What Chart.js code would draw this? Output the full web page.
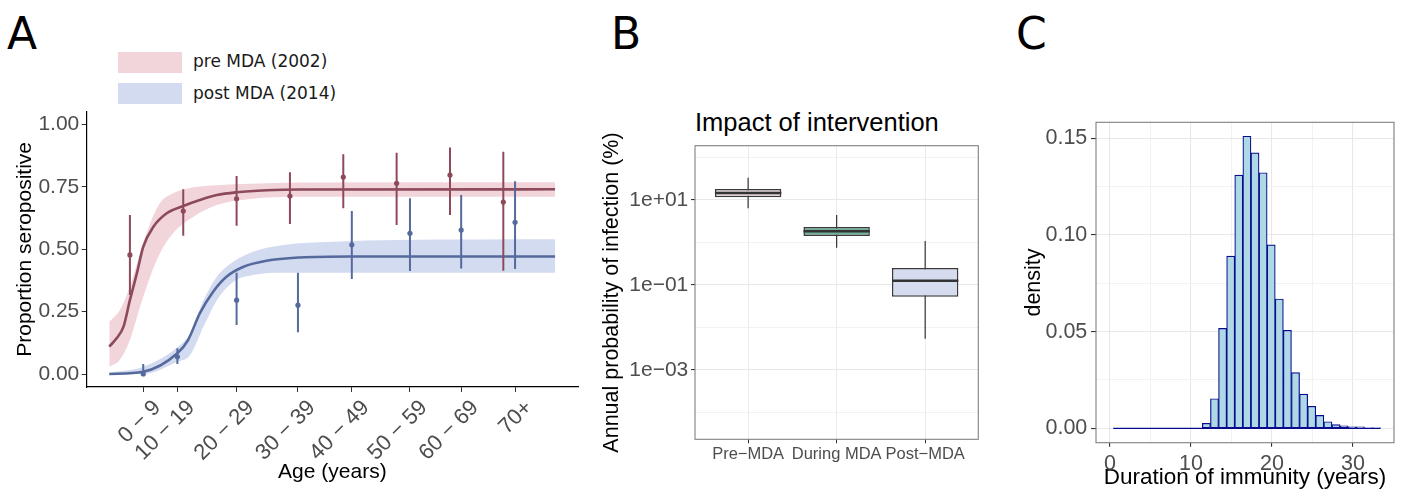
<!DOCTYPE html>
<html>
<head>
<meta charset="utf-8">
<script src="https://cdn.jsdelivr.net/npm/chart.js@4.4.0/dist/chart.umd.min.js"></script>
<style>
html, body { margin: 0; padding: 0; background: #fff; width: 1402px; height: 491px; overflow: hidden; }
canvas { position: absolute; top: 0; }
.tag { position: absolute; top: 12px; font: 44px/44px "DejaVu Sans", sans-serif; color: #000; }
.key { position: absolute; left: 118px; width: 64px; height: 21px; }
.keytxt { position: absolute; left: 193px; font: 17px/20px "DejaVu Sans", sans-serif; color: #1a1a1a; white-space: nowrap; }
#titleB { position: absolute; left: 695px; top: 110px; font: 25.5px/25.5px "Liberation Sans", Arial, sans-serif; color: #000; white-space: nowrap; }
</style>
</head>
<body>
<div class="tag" style="left:7px">A</div>
<div class="tag" style="left:611px">B</div>
<div class="tag" style="left:1016px">C</div>

<div class="key" style="top:52px; background:#f2d4db"></div>
<div class="keytxt" style="top:51px">pre MDA (2002)</div>
<div class="key" style="top:83px; background:#d3dbf1"></div>
<div class="keytxt" style="top:83px">post MDA (2014)</div>

<div id="titleB">Impact of intervention</div>

<canvas id="chartA" width="600" height="491" style="left:0px"></canvas>
<canvas id="chartB" width="400" height="491" style="left:600px"></canvas>
<canvas id="chartC" width="402" height="491" style="left:1000px"></canvas>

<script>
// ---------- panel A : seroprevalence by age ----------
var ageGroups = ["0 \u2212 9", "10 \u2212 19", "20 \u2212 29", "30 \u2212 39", "40 \u2212 49", "50 \u2212 59", "60 \u2212 69", "70+"];
var groupAge  = [7.5, 13.9, 25.0, 36.5, 46.6, 57.5, 67.1, 77.2];   // where the age ticks / post MDA points sit
var propTicks = [0, 0.25, 0.5, 0.75, 1.0];

var preAge = [5, 15, 25, 35, 45, 55, 65, 75];
var preObs = [0.477, 0.653, 0.702, 0.713, 0.789, 0.764, 0.797, 0.689];
var preLo  = [0.317, 0.554, 0.594, 0.601, 0.664, 0.597, 0.637, 0.414];
var preHi  = [0.637, 0.740, 0.793, 0.808, 0.881, 0.887, 0.908, 0.891];

var postObs = [0.000, 0.069, 0.296, 0.276, 0.518, 0.564, 0.577, 0.608];
var postLo  = [0.000, 0.040, 0.196, 0.167, 0.381, 0.413, 0.423, 0.421];
var postHi  = [0.040, 0.103, 0.406, 0.406, 0.653, 0.704, 0.717, 0.772];

// fitted model curves
var preFitAge = [1.13, 2.5, 3.8, 5, 6.3, 7.5, 9.4, 11.9, 15, 18.1, 21.3, 25, 30.6, 36.9, 84.7];
var preFit    = [0.110, 0.143, 0.190, 0.296, 0.403, 0.510, 0.590, 0.644, 0.673, 0.697, 0.717, 0.728, 0.736, 0.739, 0.740];
var preBandAge = [1.13, 3.1, 5, 6.9, 8.8, 10.6, 13.1, 16.9, 21.3, 27.5, 36.9, 84.7];
var preBandHi  = [0.210, 0.256, 0.350, 0.483, 0.604, 0.684, 0.724, 0.748, 0.756, 0.762, 0.767, 0.768];
var preBandLo  = [0.029, 0.056, 0.136, 0.270, 0.390, 0.483, 0.564, 0.630, 0.677, 0.701, 0.710, 0.710];

var postFitAge = [1.13, 7.5, 13.9, 15.9, 18.1, 20.6, 23.1, 26.3, 30.6, 36.9, 46.3, 84.7];
var postFit    = [0.000, 0.009, 0.083, 0.136, 0.243, 0.330, 0.390, 0.430, 0.454, 0.467, 0.471, 0.471];
var postBandAge = [1.13, 7.5, 13.9, 16.3, 18.8, 21.3, 24.4, 28.1, 33.8, 43.1, 55.6, 84.7];
var postBandHi  = [0.005, 0.029, 0.107, 0.163, 0.296, 0.390, 0.450, 0.490, 0.517, 0.530, 0.537, 0.540];
var postBandLo  = [0.000, 0.000, 0.049, 0.076, 0.190, 0.296, 0.370, 0.397, 0.406, 0.406, 0.406, 0.406];

// ---------- panel B : annual probability of infection (%) ----------
var phases    = ["Pre\u2212MDA", "During MDA", "Post\u2212MDA"];
var probMin   = [6.38, 0.755, 0.00545];
var probQ1    = [11.6, 1.42, 0.0531];
var probMed   = [14.6, 1.84, 0.126];
var probQ3    = [18.1, 2.32, 0.251];
var probMax   = [33.5, 4.44, 1.08];
var probTicks = [1e-3, 1e-1, 1e1];
var probTickLabels = ["1e\u221203", "1e\u221201", "1e+01"];
var probGrid  = [1e-4, 1e-3, 1e-2, 1e-1, 1, 10, 100];

// ---------- panel C : duration of immunity ----------
var immunityBins = [0.9, 1.9, 2.9, 3.9, 4.9, 5.9, 6.9, 7.9, 8.9, 9.9, 10.9, 11.9, 12.9, 13.9, 14.9, 15.9, 16.9,
                    17.9, 18.9, 19.9, 20.9, 21.9, 22.9, 23.9, 24.9, 25.9, 26.9, 27.9, 28.9, 29.9, 30.9, 31.9, 32.9];
var immunityDensity = [0, 0, 0, 0, 0, 0, 0, 0, 0, 0, 0, 0.0026, 0.0153, 0.0517, 0.0891, 0.131, 0.1511,
                       0.1425, 0.1322, 0.0949, 0.0669, 0.0507, 0.0288, 0.0177, 0.0114, 0.0067, 0.0034, 0.0019, 0.0013, 0.0008, 0.0007, 0.0003, 0.0002];
var durTicks   = [0, 10, 20, 30];
var durGrid    = [0, 5, 10, 15, 20, 25, 30, 35];
var densTicks  = [0, 0.05, 0.10, 0.15];
var densGrid   = [0, 0.025, 0.05, 0.075, 0.10, 0.125, 0.15];

// ---------- helpers ----------
var fontFam = '"Liberation Sans", Arial, Helvetica, sans-serif';
var tickGrey = '#4d4d4d';
var preCol = '#8c4a5b', postCol = '#56699c';
var preBand = '#f2d4db', postBand = '#d3dbf1';

Chart.defaults.animation = false;
Chart.defaults.font.family = fontFam;
Chart.defaults.plugins.legend.display = false;
Chart.defaults.plugins.tooltip.enabled = false;

function pts(xs, ys) {
    return xs.map(function (x, i) { return { x: x, y: ys[i] }; });
}
// vertical segments broken by nulls
function segs(xs, lo, hi) {
    var out = [];
    xs.forEach(function (x, i) {
        out.push({ x: x, y: lo[i] }, { x: x, y: hi[i] }, { x: x, y: null });
    });
    return out;
}
function fixTicks(list) {
    return function (s) { s.ticks = list.map(function (v) { return { value: v }; }); };
}
function fixSize(w, h) {
    return function (s) {
        if (w !== null) s.width = w;
        if (h !== null) s.height = h;
        s.paddingLeft = s.paddingRight = s.paddingTop = s.paddingBottom = 0;
    };
}

var panelBox = {
    id: 'panelBox',
    afterDraw: function (chart) {
        var a = chart.chartArea, c = chart.ctx;
        c.save();
        c.strokeStyle = '#808080';
        c.lineWidth = 1.1;
        c.strokeRect(a.left, a.top, a.right - a.left, a.bottom - a.top);
        c.restore();
    }
};

// ---------- chart A ----------
new Chart(document.getElementById('chartA'), {
    type: 'line',
    data: {
        datasets: [
            { data: pts(preBandAge, preBandLo), order: 9, borderColor: 'transparent', borderWidth: 0, pointRadius: 0, fill: false, cubicInterpolationMode: 'monotone' },
            { data: pts(preBandAge, preBandHi), order: 8, borderColor: 'transparent', borderWidth: 0, pointRadius: 0, fill: '-1', backgroundColor: preBand, cubicInterpolationMode: 'monotone' },
            { data: pts(postBandAge, postBandLo), order: 7, borderColor: 'transparent', borderWidth: 0, pointRadius: 0, fill: false, cubicInterpolationMode: 'monotone' },
            { data: pts(postBandAge, postBandHi), order: 6, borderColor: 'transparent', borderWidth: 0, pointRadius: 0, fill: '-1', backgroundColor: postBand, cubicInterpolationMode: 'monotone' },
            { data: pts(preFitAge, preFit), order: 5, borderColor: preCol, borderWidth: 2.6, pointRadius: 0, fill: false, cubicInterpolationMode: 'monotone' },
            { data: pts(postFitAge, postFit), order: 5, borderColor: postCol, borderWidth: 2.6, pointRadius: 0, fill: false, cubicInterpolationMode: 'monotone' },
            { data: segs(preAge, preLo, preHi), order: 3, borderColor: preCol, borderWidth: 2, pointRadius: 0, spanGaps: false, fill: false },
            { data: segs(groupAge, postLo, postHi), order: 2, borderColor: postCol, borderWidth: 2, pointRadius: 0, spanGaps: false, fill: false },
            { data: pts(preAge, preObs), order: 1, showLine: false, pointRadius: 2.6, pointBorderWidth: 0, pointBackgroundColor: preCol },
            { data: pts(groupAge, postObs), order: 1, showLine: false, pointRadius: 2.6, pointBorderWidth: 0, pointBackgroundColor: postCol }
        ]
    },
    options: {
        responsive: false,
        maintainAspectRatio: false,
        layout: { padding: { top: 111.7, right: 22, left: 0, bottom: 0 } },
        scales: {
            x: {
                type: 'linear', min: -3.1, max: 89, offset: false,
                afterBuildTicks: fixTicks(groupAge),
                afterFit: fixSize(null, 104),
                ticks: {
                    autoSkip: false, minRotation: 45, maxRotation: 45, padding: 3, labelOffset: 14,
                    color: tickGrey, font: { size: 22 },
                    callback: function (v, i) { return ageGroups[i]; }
                },
                grid: { drawOnChartArea: false, tickLength: 5, color: '#333', lineWidth: 1 },
                border: { color: '#000', width: 1.2 },
                title: { display: true, text: 'Age (years)', color: '#000', font: { size: 21 }, padding: { top: 0, bottom: 6 } }
            },
            y: {
                min: -0.052, max: 1.051,
                afterBuildTicks: fixTicks(propTicks),
                afterFit: fixSize(86.7, null),
                ticks: {
                    padding: 2.4, color: tickGrey, font: { size: 21 },
                    callback: function (v) { return v.toFixed(2); }
                },
                grid: { drawOnChartArea: false, tickLength: 5, color: '#333', lineWidth: 1 },
                border: { color: '#000', width: 1.2 },
                title: { display: true, text: 'Proportion seropositive', color: '#000', font: { size: 21 }, padding: { top: 13, bottom: 0 } }
            }
        }
    }
});

// ---------- chart B ----------
var boxFill = ['#e5d3da', '#6fae9b', '#d6dcf0'];
var whisk = [], meds = [];
phases.forEach(function (p, i) {
    whisk.push({ x: i, y: probMin[i] }, { x: i, y: probMax[i] }, { x: i, y: null });
    meds.push({ x: i - 0.375, y: probMed[i] }, { x: i + 0.375, y: probMed[i] }, { x: i, y: null });
});

new Chart(document.getElementById('chartB'), {
    type: 'bar',
    data: {
        datasets: [
            { type: 'line', data: whisk, order: 3, borderColor: '#333', borderWidth: 1.2, pointRadius: 0, spanGaps: false, fill: false },
            { type: 'bar', data: phases.map(function (p, i) { return { x: i, y: [probQ1[i], probQ3[i]] }; }),
              order: 2, backgroundColor: boxFill, borderColor: '#3a3a3a', borderWidth: 1.5, borderSkipped: false,
              barPercentage: 0.75, categoryPercentage: 1 },
            { type: 'line', data: meds, order: 1, borderColor: '#333', borderWidth: 2.6, pointRadius: 0, spanGaps: false, fill: false }
        ]
    },
    options: {
        responsive: false,
        maintainAspectRatio: false,
        layout: { padding: { top: 145.7, right: 21.7, left: 0, bottom: 0 } },
        scales: {
            x: {
                type: 'linear', min: -0.6, max: 2.6, offset: false,
                afterBuildTicks: fixTicks([0, 1, 2]),
                afterFit: fixSize(null, 51.7),
                ticks: {
                    autoSkip: false, maxRotation: 0, padding: 1, color: tickGrey, font: { size: 16.5 },
                    callback: function (v, i) { return phases[i]; }
                },
                grid: { offset: false, color: '#ebebeb', lineWidth: 1, tickColor: '#333', tickLength: 4 },
                border: { display: false }
            },
            y: {
                type: 'logarithmic', min: 2.34e-5, max: 189.7,
                afterBuildTicks: fixTicks(probGrid),
                afterFit: fixSize(95, null),
                ticks: {
                    padding: 2.7, color: tickGrey, font: { size: 21 },
                    callback: function (v) {
                        var k = probTicks.indexOf(v);
                        return k >= 0 ? probTickLabels[k] : '';
                    }
                },
                grid: {
                    tickLength: 4,
                    color: function (c) { return probTicks.indexOf(c.tick.value) >= 0 ? '#e8e8e8' : '#efefef'; },
                    lineWidth: function (c) { return probTicks.indexOf(c.tick.value) >= 0 ? 1.1 : 0.8; },
                    tickColor: function (c) { return probTicks.indexOf(c.tick.value) >= 0 ? '#333' : 'rgba(0,0,0,0)'; }
                },
                border: { display: false },
                title: { display: true, text: 'Annual probability of infection (%)', color: '#000', font: { size: 21.5 }, padding: { top: -1, bottom: 0 } }
            }
        }
    },
    plugins: [panelBox]
});

// ---------- chart C ----------
var baseLine = [
    { x: immunityBins[0] - 0.5, y: 0 },
    { x: immunityBins[immunityBins.length - 1] + 0.5, y: 0 }
];

new Chart(document.getElementById('chartC'), {
    type: 'bar',
    data: {
        datasets: [
            { type: 'line', data: baseLine, order: 0, borderColor: '#0a0a8c', borderWidth: 1.3, pointRadius: 0, fill: false },
            { type: 'bar', data: pts(immunityBins, immunityDensity), order: 1,
              backgroundColor: '#add8e6', borderColor: '#0a0a8c', borderWidth: 1.2, borderSkipped: false,
              barPercentage: 1, categoryPercentage: 1 }
        ]
    },
    options: {
        responsive: false,
        maintainAspectRatio: false,
        layout: { padding: { top: 122.3, right: 8, left: 0, bottom: 0 } },
        scales: {
            x: {
                type: 'linear', min: -1.73, max: 35.06, offset: false,
                afterBuildTicks: fixTicks(durGrid),
                afterFit: fixSize(null, 48.3),
                ticks: {
                    autoSkip: false, maxRotation: 0, padding: 4, color: tickGrey, font: { size: 21.5 },
                    callback: function (v) { return durTicks.indexOf(v) >= 0 ? String(v) : ''; }
                },
                grid: {
                    offset: false, tickLength: 4,
                    color: function (c) { return durTicks.indexOf(c.tick.value) >= 0 ? '#e8e8e8' : '#efefef'; },
                    lineWidth: function (c) { return durTicks.indexOf(c.tick.value) >= 0 ? 1.1 : 0.8; },
                    tickColor: function (c) { return durTicks.indexOf(c.tick.value) >= 0 ? '#333' : 'rgba(0,0,0,0)'; }
                },
                border: { display: false },
                title: { display: true, text: 'Duration of immunity (years)', color: '#000', font: { size: 22.5 }, padding: { top: 0, bottom: -0.5 } }
            },
            y: {
                min: -0.00745, max: 0.1583,
                afterBuildTicks: fixTicks(densGrid),
                afterFit: fixSize(96, null),
                ticks: {
                    padding: 3.7, color: tickGrey, font: { size: 21.5 },
                    callback: function (v) { return densTicks.indexOf(v) >= 0 ? v.toFixed(2) : ''; }
                },
                grid: {
                    tickLength: 5,
                    color: function (c) { return densTicks.indexOf(c.tick.value) >= 0 ? '#e8e8e8' : '#efefef'; },
                    lineWidth: function (c) { return densTicks.indexOf(c.tick.value) >= 0 ? 1.1 : 0.8; },
                    tickColor: function (c) { return densTicks.indexOf(c.tick.value) >= 0 ? '#333' : 'rgba(0,0,0,0)'; }
                },
                border: { display: false },
                title: { display: true, text: 'density', color: '#000', font: { size: 21.5 }, padding: { top: 21, bottom: 0 } }
            }
        }
    },
    plugins: [panelBox]
});
</script>
</body>
</html>
